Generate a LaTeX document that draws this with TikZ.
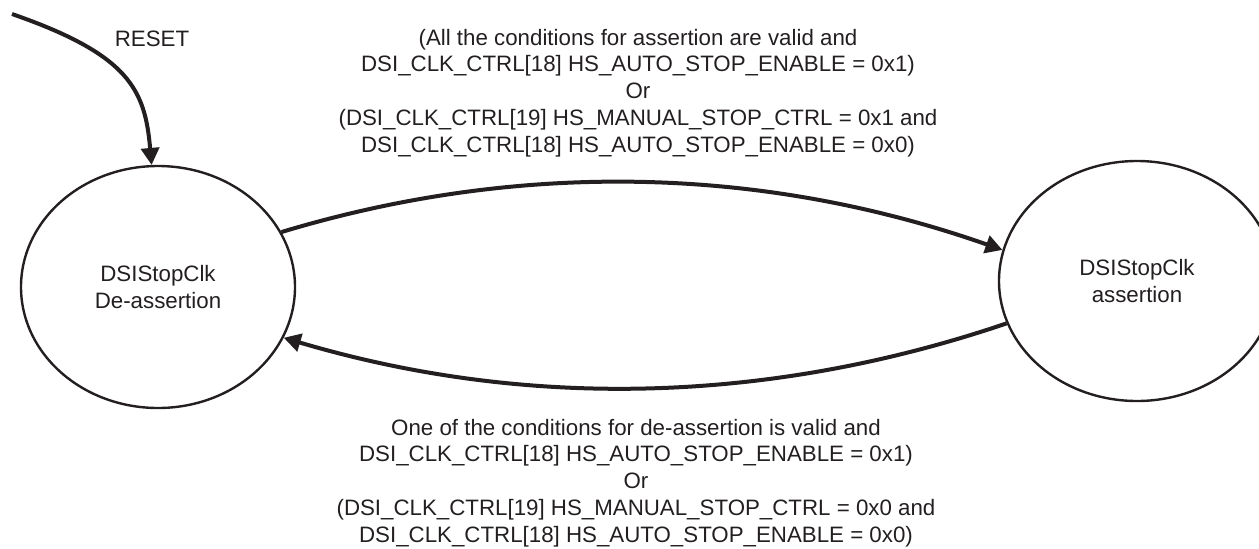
\documentclass[tikz,border=0pt]{standalone}
\usepackage{fontspec}
\setmainfont{Liberation Sans}
\usetikzlibrary{arrows.meta,shapes.geometric}
\definecolor{ink}{RGB}{35,31,32}
\begin{document}
\begin{tikzpicture}[x=0.5pt,y=-0.5pt,
  state/.style={draw=ink, line width=1.2pt, ellipse, inner sep=0pt, align=center,
    font=\fontsize{11.15}{13.35}\selectfont, text=ink},
  trans/.style={draw=ink, line width=2pt, -{Triangle[length=8.5pt,width=9pt]}},
  lbl/.style={align=center, font=\fontsize{11.15}{13.35}\selectfont, text=ink, inner sep=0pt}]
\useasboundingbox (0,0) rectangle (1259,548);
\clip (0,0) rectangle (1259,548);
\node[state, minimum width=137pt, minimum height=121pt] (L) at (158,287) {DSIStopClk\\De-assertion};
\node[state, minimum width=138pt, minimum height=120pt] (R) at (1137,281) {DSIStopClk\\assertion};
\coordinate (start) at (12,14);
\node[lbl, anchor=base] (reset) at (152,46) {RESET};
\node[lbl, anchor=base] (top) at (638,152) {(All the conditions for assertion are valid and\\
DSI\_CLK\_CTRL[18] HS\_AUTO\_STOP\_ENABLE = 0x1)\\
Or\\
(DSI\_CLK\_CTRL[19] HS\_MANUAL\_STOP\_CTRL = 0x1 and\\
DSI\_CLK\_CTRL[18] HS\_AUTO\_STOP\_ENABLE = 0x0)};
\node[lbl, anchor=base] (bot) at (636,542) {One of the conditions for de-assertion is valid and\\
DSI\_CLK\_CTRL[18] HS\_AUTO\_STOP\_ENABLE = 0x1)\\
Or\\
(DSI\_CLK\_CTRL[19] HS\_MANUAL\_STOP\_CTRL = 0x0 and\\
DSI\_CLK\_CTRL[18] HS\_AUTO\_STOP\_ENABLE = 0x0)};
\draw[trans] (start) .. controls (130,55) and (145,90) .. (L.93);
\draw[trans] (L.24.6) .. controls (520,160) and (763,166) .. (R.167.6);
\draw[trans] (R.198.4) .. controls (766,405) and (524,409) .. (L.-22.4);
\end{tikzpicture}
\end{document}
